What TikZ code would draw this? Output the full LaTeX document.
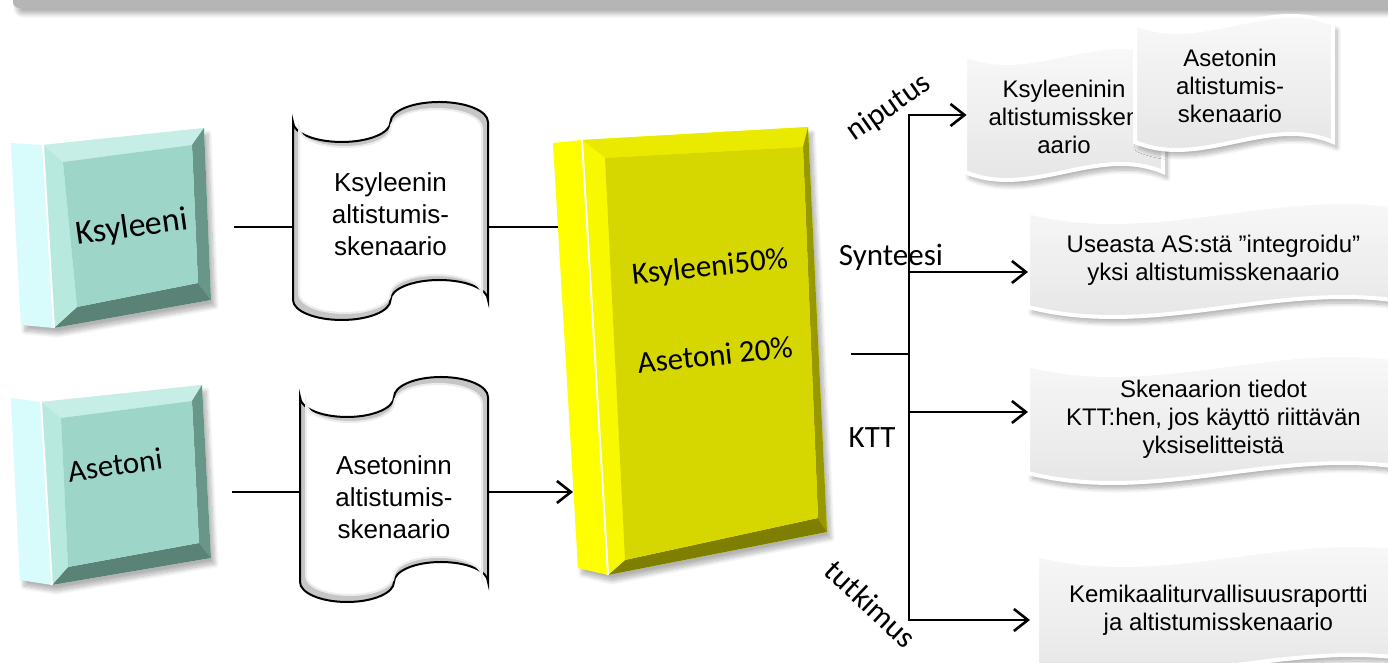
\documentclass[tikz,border=0pt]{standalone}
\usepackage{fontspec}
\setmainfont{Liberation Sans}
\newfontfamily\calibri{Carlito}
\usetikzlibrary{arrows.meta,shadows.blur}

\definecolor{tealface}{RGB}{157,214,200}
\definecolor{tealtop}{RGB}{198,238,230}
\definecolor{tealleft}{RGB}{184,233,223}
\definecolor{tealright}{RGB}{104,150,137}
\definecolor{tealbottom}{RGB}{90,130,118}
\definecolor{tealside}{RGB}{216,251,252}
\definecolor{yelface}{RGB}{214,214,0}
\definecolor{yeltop}{RGB}{234,234,0}
\definecolor{yelleft}{RGB}{248,248,0}
\definecolor{yelright}{RGB}{152,152,0}
\definecolor{yelbottom}{RGB}{126,126,0}
\definecolor{yelside}{RGB}{255,255,0}

% punched tape and wave outlines: left, top, right, bottom, amplitude
\newcommand{\tapepath}[5]{(#1,#2) arc[start angle=180,end angle=360,x radius={(#3-#1)/4},y radius=#5] arc[start angle=180,end angle=0,x radius={(#3-#1)/4},y radius=#5] -- (#3,#4) arc[start angle=0,end angle=180,x radius={(#3-#1)/4},y radius=#5] arc[start angle=0,end angle=-180,x radius={(#3-#1)/4},y radius=#5] -- cycle}
\newcommand{\wavepath}[5]{(#1,#2) .. controls ({#1+(#3-#1)/3},{#2-3.46*#5}) and ({#1+2*(#3-#1)/3},{#2+3.46*#5}) .. (#3,#2) -- (#3,#4) .. controls ({#1+2*(#3-#1)/3},{#4+3.46*#5}) and ({#1+(#3-#1)/3},{#4-3.46*#5}) .. (#1,#4) -- cycle}

\tikzset{
	link/.style={line width=1.3pt},
	arr/.style={link,-{Straight Barb[length=7pt,width=11pt]}},
	arrboth/.style={link,{Straight Barb[length=7pt,width=11pt]}-{Straight Barb[length=7pt,width=11pt]}},
	softshadow/.style={blur shadow={shadow xshift=2pt,shadow yshift=-3pt,shadow blur steps=10,shadow opacity=30}},
	tapeouter/.style={fill=gray!45,draw=black,line width=1pt},
	tapeinner/.style={fill=white,draw=gray!15,line width=1pt},
	wave/.style={softshadow,top color=gray!3,bottom color=gray!22,draw=white,line width=2pt},
	tapetext/.style={align=center,inner sep=0pt,font=\fontsize{13}{16}\selectfont},
	wavetext/.style={align=center,inner sep=0pt,font=\fontsize{12}{14}\selectfont},
	boxtext/.style={inner sep=0pt,font=\calibri\fontsize{17}{20}\selectfont},
	tag/.style={inner sep=0pt,font=\calibri\fontsize{15.5}{18}\selectfont}
}

\begin{document}
\begin{tikzpicture}[x=0.5pt,y=0.5pt]
	\useasboundingbox (0,0) rectangle (1388,663);
	\clip (0,0) rectangle (1388,663);

	% title bar
	\fill[softshadow,gray!58,rounded corners=3pt] (13,655) rectangle (1420,720);

	% Ksyleeni
	\fill[softshadow,tealside] (11,520) -- (43,518) -- (204,535) -- (211,363) -- (54,335) -- (21,338) -- cycle;
	\fill[tealtop] (43,518) -- (204,535) -- (192,518) -- (63,501) -- cycle;
	\fill[tealright] (204,535) -- (211,363) -- (198,380) -- (192,518) -- cycle;
	\fill[tealbottom] (211,363) -- (54,335) -- (77,356) -- (198,380) -- cycle;
	\fill[tealleft] (54,335) -- (43,518) -- (63,501) -- (77,356) -- cycle;
	\fill[tealface] (63,501) -- (192,518) -- (198,380) -- (77,356) -- cycle;
	\draw[white,line width=1pt] (43,518) -- (54,335);
	\node[boxtext,rotate=8] (ksyBox) at (132,435) {Ksyleeni};

	% Asetoni
	\fill[softshadow,tealside] (11,265) -- (41,261) -- (202,278) -- (211,105) -- (52,78) -- (20,83) -- cycle;
	\fill[tealtop] (41,261) -- (202,278) -- (192,262) -- (61,245) -- cycle;
	\fill[tealright] (202,278) -- (211,105) -- (199,120) -- (192,262) -- cycle;
	\fill[tealbottom] (211,105) -- (52,78) -- (68,96) -- (199,120) -- cycle;
	\fill[tealleft] (52,78) -- (41,261) -- (61,245) -- (68,96) -- cycle;
	\fill[tealface] (61,245) -- (192,262) -- (199,120) -- (68,96) -- cycle;
	\draw[white,line width=1pt] (41,261) -- (52,78);
	\node[tag,rotate=8] (asetBox) at (115,198) {Asetoni};

	% scenarios
	\path[tapeouter] \tapepath{293}{541}{488}{363}{20};
	\path[tapeinner] \tapepath{299}{535}{482}{369}{19};
	\node[tapetext,minimum width=97.5pt] (ksyTape) at (390.5,449) {Ksyleenin\\altistumis-\\skenaario};

	\path[tapeouter] \tapepath{300}{266}{488}{81}{20};
	\path[tapeinner] \tapepath{306}{260}{482}{87}{19};
	\node[tapetext,minimum width=94pt] (asetTape) at (394,166) {Asetoninn\\altistumis-\\skenaario};

	% mixture
	\fill[softshadow,yelside] (553,520) -- (582,523) -- (808,536) -- (827,131) -- (608,88) -- (578,95) -- cycle;
	\fill[yeltop] (582,523) -- (808,536) -- (803,516) -- (605,505) -- cycle;
	\fill[yelright] (808,536) -- (827,131) -- (818,145) -- (803,516) -- cycle;
	\fill[yelbottom] (827,131) -- (608,88) -- (625,103) -- (818,145) -- cycle;
	\fill[yelleft] (608,88) -- (582,523) -- (605,505) -- (625,103) -- cycle;
	\fill[yelface] (605,505) -- (803,516) -- (818,145) -- (625,103) -- cycle;
	\draw[white,line width=1pt] (582,523) -- (608,88);
	\node[tag,rotate=6] (mixTop) at (710,395) {Ksyleeni50\%};
	\node[tag,rotate=6] (mixBot) at (715,308) {Asetoni 20\%};

	\coordinate (ksyOut) at (234,436);
	\coordinate (asetOut) at (232,171);
	\coordinate (mixIn1) at (558,436);
	\coordinate (mixIn2) at (573,171);
	\draw[link] (ksyOut) -- (ksyOut -| ksyTape.west);
	\draw[link] (ksyTape.east |- ksyOut) -- (mixIn1);
	\draw[link] (asetOut) -- (asetOut -| asetTape.west);
	\draw[arr] (asetTape.east |- asetOut) -- (mixIn2);

	% results
	\path[wave] \wavepath{965}{608}{1163}{491}{8};
	\node[wavetext,minimum width=97pt] (ksyWave) at (1064,546) {Ksyleeninin\\altistumissken\\aario};
	\path[wave] \wavepath{1135}{639}{1333}{521}{8};
	\node[wavetext] (asetWave) at (1230,577) {Asetonin\\altistumis-\\skenaario};

	\path[wave] \wavepath{1028}{451}{1428}{356}{10};
	\node[wavetext,anchor=west,minimum width=185pt] (synWave) at (1028,403) {Useasta AS:stä ”integroidu”\\yksi altistumisskenaario};
	\path[wave] \wavepath{1028}{298}{1428}{190}{10};
	\node[wavetext,anchor=west,minimum width=185pt] (kttWave) at (1028,244) {Skenaarion tiedot\\KTT:hen, jos käyttö riittävän\\yksiselitteistä};
	\path[wave] \wavepath{1037}{108}{1437}{-2}{10};
	\node[wavetext,anchor=west,minimum width=188pt] (kemWave) at (1030,53) {Kemikaaliturvallisuusraportti\\ja altistumisskenaario};

	\node[tag,rotate=35] (niputusLbl) at (889,555) {niputus};
	\node[tag] (synLbl) at (891,406) {Synteesi};
	\node[tag] (kttLbl) at (872,225) {KTT};
	\node[tag,rotate=-43] (tutkLbl) at (871,59) {tutkimus};

	\coordinate (mixOut) at (851,309);
	\coordinate (hub) at (909,309);
	\coordinate (forkTop) at (909,548);
	\coordinate (forkSyn) at (909,391);
	\coordinate (forkKtt) at (909,251);
	\coordinate (forkBot) at (909,43);
	\draw[link] (mixOut) -- (hub);
	\draw[arrboth] (forkTop -| ksyWave.west) -- (forkTop) -- (forkBot) -- (forkBot -| kemWave.west);
	\draw[arr] (forkSyn) -- (forkSyn -| synWave.west);
	\draw[arr] (forkKtt) -- (forkKtt -| kttWave.west);

\end{tikzpicture}
\end{document}
